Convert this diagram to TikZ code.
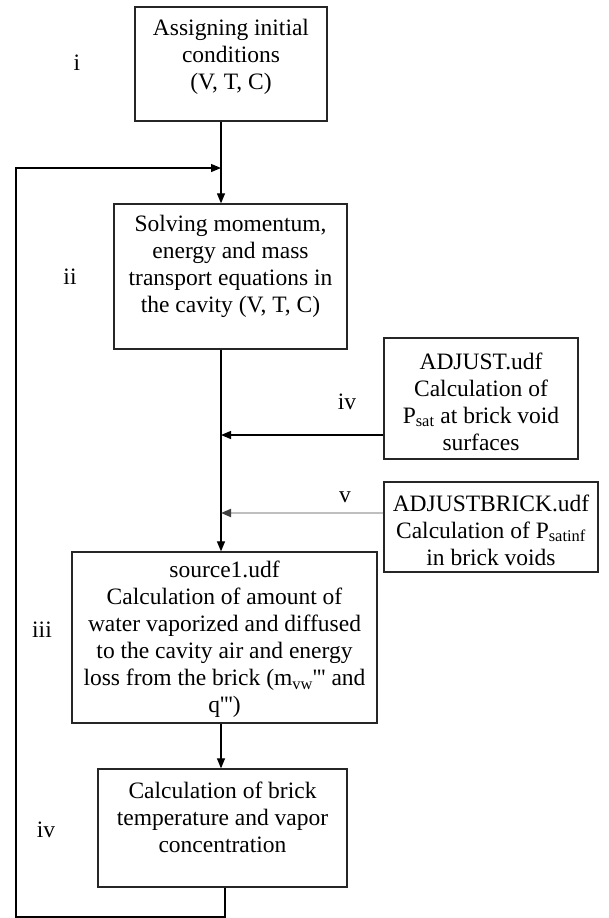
\documentclass[tikz,border=0pt]{standalone}
\usepackage{fontspec}
\setmainfont{Liberation Serif}
\usetikzlibrary{arrows.meta, positioning}
\newcommand{\trip}{\textquotesingle\textquotesingle\textquotesingle}

\begin{document}
\begin{tikzpicture}[x=1pt, y=-1pt,
  box/.style={rectangle, draw=black!85, line width=1.3pt, inner sep=0pt},
  txt/.style={align=center, inner sep=0pt, font=\fontsize{23.5}{27}\selectfont},
  lbl/.style={inner sep=0pt, font=\fontsize{23.5}{27}\selectfont},
  arr/.style={line width=1.2pt, -{Triangle[length=10pt, width=8pt]}},
  garr/.style={line width=1.8pt, gray!50, -{Triangle[length=10pt, width=8pt, black!75]}}
]
  \useasboundingbox (0,0) rectangle (609,918);

  % Main chain of boxes
  \node[box, minimum width=192pt, minimum height=114pt] (init) at (231,64) {};
  \node[txt] (initT) at ([yshift=7pt]init.center) {Assigning initial\\conditions\\(V, T, C)};

  \node[box, minimum width=233pt, minimum height=145pt] (solve) at (230.5,276.5) {};
  \node[txt] (solveT) at ([yshift=10pt]solve.center)
    {Solving momentum,\\energy and mass\\transport equations in\\the cavity (V, T, C)};

  \node[box, minimum width=305pt, minimum height=171pt] (src) at (224.5,637.5) {};
  \node[txt] (srcT) at ([yshift=-2pt]src.center)
    {source1.udf\\Calculation of amount of\\water vaporized and diffused\\to the cavity air and energy\\loss from the brick (m\textsubscript{vw}\trip{} and\\q\trip)};

  \node[box, minimum width=249pt, minimum height=118pt] (brick) at (222.5,828) {};
  \node[txt] (brickT) at ([yshift=11pt]brick.center)
    {Calculation of brick\\temperature and vapor\\concentration};

  % Side boxes (UDFs)
  \node[box, minimum width=194pt, minimum height=121pt] (adj) at (481,398.5) {};
  \node[txt] (adjT) at ([yshift=-3pt]adj.center)
    {ADJUST.udf\\Calculation of\\P\textsubscript{sat} at brick void\\surfaces};

  \node[box, minimum width=214pt, minimum height=90pt] (adjb) at (491,527) {};
  \node[txt] (adjbT) at ([yshift=-3pt]adjb.center)
    {ADJUSTBRICK.udf\\Calculation of P\textsubscript{satinf}\\in brick voids};

  % Step labels
  \node[lbl] (s1) at (77,63) {i};
  \node[lbl] (s2) at (70,277) {ii};
  \node[lbl] (s3) at (42,630) {iii};
  \node[lbl] (s4) at (46,830) {iv};
  \node[lbl] (s4b) at (347,402) {iv};
  \node[lbl] (s5) at (345,497) {v};

  % Spine and loop points
  \coordinate (spine) at (221,0);
  \coordinate (join) at (221,168);
  \coordinate (loopR) at (225,917);
  \coordinate (loopL) at (16,917);
  \coordinate (loopT) at (16,168);

  % Connectors
  \draw[arr] (init.south -| spine) -- (solve.north -| spine);
  \draw[arr] (solve.south -| spine) -- (src.north -| spine);
  \draw[arr] (src.south -| spine) -- (brick.north -| spine);
  \draw[arr] (adj.west |- 0,435) -- (spine |- 0,435);
  \draw[garr] (adjb.west |- 0,513) -- (spine |- 0,513);
  \draw[arr] (brick.south -| loopR) -- (loopR) -- (loopL) -- (loopT) -- (join);
\end{tikzpicture}
\end{document}
